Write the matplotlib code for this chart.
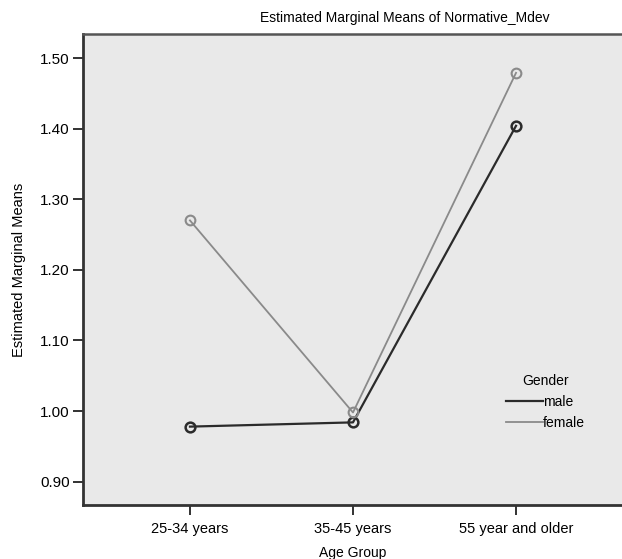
import numpy as np
from matplotlib import pyplot as plt

plt.rcParams['font.family'] = ['Liberation Sans Narrow', 'Liberation Sans', 'DejaVu Sans']

groups = ['25-34 years', '35-45 years', '55 year and older']
male = [0.978, 0.984, 1.404]
female = [1.270, 0.998, 1.479]
yticks = [0.90, 1.00, 1.10, 1.20, 1.30, 1.40, 1.50]

fig = plt.figure(figsize=(6.22, 5.59), dpi=100)
ax = fig.add_axes([83/622, 54/559, 539/622, 471/559])
ax.set_facecolor('#e9e9e9')

x = np.arange(len(groups))
ax.plot(x, male, color='#2b2b2b', lw=1.6, marker='o', ms=7, mfc='none', mew=1.8, label='male')
ax.plot(x, female, color='#8a8a8a', lw=1.3, marker='o', ms=7, mfc='none', mew=1.5, label='female')

ax.set_xlim(-0.656, 2.65)
ax.set_ylim(0.867, 1.534)
ax.set_xticks(x)
ax.set_xticklabels(groups, fontsize=10.5)
ax.set_yticks(yticks)
ax.set_yticklabels(['%.2f' % v for v in yticks], fontsize=11)
ax.tick_params(direction='out', length=7.5, width=1.3, color='#222222')
ax.tick_params(axis='x', pad=5)
ax.tick_params(axis='y', pad=2)

for s in ['left', 'bottom']:
    ax.spines[s].set_linewidth(2)
    ax.spines[s].set_color('#333333')
ax.spines['top'].set_linewidth(1.8)
ax.spines['top'].set_color('#555555')
ax.spines['right'].set_visible(False)

ax.set_xlabel('Age Group', fontsize=10, labelpad=7)
ax.set_ylabel('Estimated Marginal Means', fontsize=10.5, labelpad=10)
fig.text(405/622, 1 - 18/559, 'Estimated Marginal Means of Normative_Mdev',
         ha='center', va='center', fontsize=10)

leg = ax.legend(title='Gender', loc='center left', bbox_to_anchor=(0.761, 0.218),
                frameon=False, handlelength=2.7, handletextpad=0.0, fontsize=10,
                title_fontsize=10, labelspacing=0.5)
for h in leg.legend_handles:
    h.set_marker('')

fig.savefig('out.png', dpi=100)
